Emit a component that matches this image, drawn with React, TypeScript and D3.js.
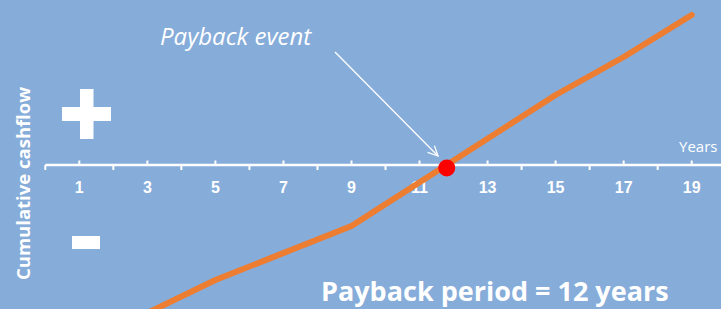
import React from "react";
import * as d3 from "d3";

const years = [3, 5, 9, 15, 17, 19];
const cashflow = [-148, -115, -61, 70, 108, 150];
const tickYears = d3.range(0, 21);
const labelYears = [1, 3, 5, 7, 9, 11, 13, 15, 17, 19];
const paybackYear = 11.8;
const paybackValue = -3;

const W = 721;
const H = 309;
const BG = "#86ACDA";

export default function App() {
  const x = d3.scaleLinear().domain([0, 19]).range([45.3, 691.7]);
  const y = d3.scaleLinear().domain([-150, 150]).range([315, 15]);
  const line = d3
    .line<number>()
    .x((_, i) => x(years[i]))
    .y((d) => y(d));
  const axisY = y(0);

  const ax0 = 335, ay0 = 52, ax1 = 438, ay1 = 156;
  const ang = Math.atan2(ay1 - ay0, ax1 - ax0);
  const hl = 11, ha = 0.45;
  const h1 = [ax1 - hl * Math.cos(ang - ha), ay1 - hl * Math.sin(ang - ha)];
  const h2 = [ax1 - hl * Math.cos(ang + ha), ay1 - hl * Math.sin(ang + ha)];

  return (
    <svg
      width={W}
      height={H}
      style={{ position: "absolute", left: 0, top: 0, display: "block" }}
    >
      <rect x={0} y={0} width={W} height={H} fill={BG} />
      {/* axis */}
      <line x1={x(0)} x2={W} y1={axisY} y2={axisY} stroke="#fff" strokeWidth={2.5} />
      {tickYears.map((t) => (
        <line
          key={t}
          x1={x(t)}
          x2={x(t)}
          y1={axisY}
          y2={t % 2 === 1 ? axisY - 4.5 : axisY + 5}
          stroke="#fff"
          strokeWidth={2}
        />
      ))}
      {labelYears.map((t) => (
        <text
          key={t}
          x={x(t)}
          y={193}
          textAnchor="middle"
          fill="#fff"
          fontFamily="Liberation Sans, Arial, sans-serif"
          fontWeight="bold"
          fontSize={16}
        >
          {t}
        </text>
      ))}
      <text
        x={679}
        y={152}
        fill="#fff"
        fontFamily="Open Sans, sans-serif"
        fontSize={15}
      >
        Years
      </text>
      {/* cashflow line */}
      <path
        d={line(cashflow) || ""}
        fill="none"
        stroke="#ED7D31"
        strokeWidth={6}
        strokeLinejoin="round"
        strokeLinecap="round"
      />
      <circle cx={x(paybackYear)} cy={y(paybackValue)} r={8.5} fill="#FF0000" />
      {/* arrow */}
      <line x1={ax0} y1={ay0} x2={ax1} y2={ay1} stroke="#fff" strokeWidth={1.3} />
      <polyline
        points={`${h1[0]},${h1[1]} ${ax1},${ay1} ${h2[0]},${h2[1]}`}
        fill="none"
        stroke="#fff"
        strokeWidth={1.3}
      />
      <text
        x={160}
        y={45}
        fill="#fff"
        fontFamily="Open Sans, sans-serif"
        fontStyle="italic"
        fontSize={24}
      >
        Payback event
      </text>
      {/* plus / minus */}
      <rect x={62} y={107} width={49} height={14} fill="#fff" />
      <rect x={80} y={89} width={13.5} height={50} fill="#fff" />
      <rect x={72} y={236} width={28} height={13} fill="#fff" />
      <text
        transform={`translate(30,${280}) rotate(-90)`}
        fill="#fff"
        fontFamily="Open Sans, sans-serif"
        fontWeight="bold"
        fontSize={18.5}
      >
        Cumulative cashflow
      </text>
      <text
        x={321}
        y={301}
        fill="#fff"
        fontFamily="Open Sans, sans-serif"
        fontWeight="bold"
        fontSize={27}
      >
        Payback period = 12 years
      </text>
    </svg>
  );
}
